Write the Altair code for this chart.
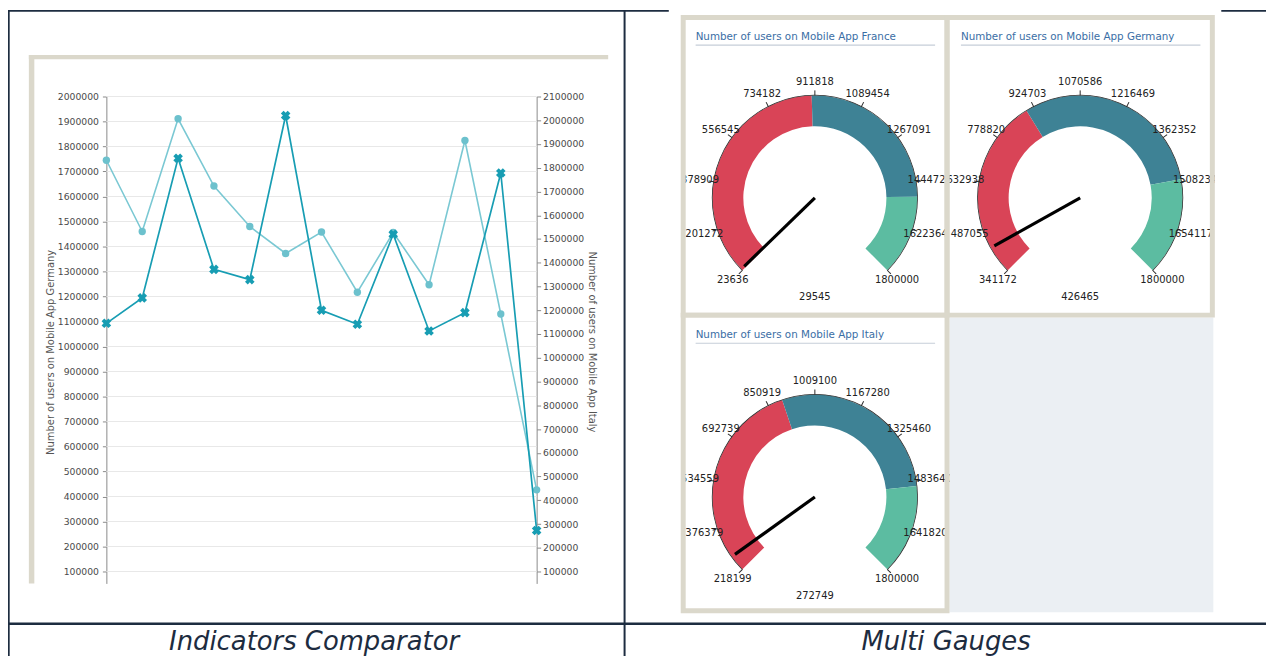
import math
import altair as alt
import pandas as pd

# ---------------- data ----------------
point_index = [0, 1, 2, 3, 4, 5, 6, 7, 8, 9, 10, 11, 12]
germany_users = [1745000, 1460000, 1911000, 1642000, 1480000, 1372000, 1458000,
                 1217000, 1456000, 1247000, 1824000, 1130000, 426465]
italy_users = [1145000, 1252000, 1840000, 1372000, 1329000, 2020000, 1200000,
               1141000, 1520000, 1113000, 1190000, 1778000, 272749]
left_axis_ticks = [100000, 200000, 300000, 400000, 500000, 600000, 700000, 800000,
                   900000, 1000000, 1100000, 1200000, 1300000, 1400000, 1500000,
                   1600000, 1700000, 1800000, 1900000, 2000000]
right_axis_ticks = [100000, 200000, 300000, 400000, 500000, 600000, 700000, 800000,
                    900000, 1000000, 1100000, 1200000, 1300000, 1400000, 1500000,
                    1600000, 1700000, 1800000, 1900000, 2000000, 2100000]
left_title = "Number of users on Mobile App Germany"
right_title = "Number of users on Mobile App Italy"

gauge_titles = ["Number of users on Mobile App France",
                "Number of users on Mobile App Germany",
                "Number of users on Mobile App Italy"]
gauge_min = [23636, 341172, 218199]
gauge_max = [1800000, 1800000, 1800000]
gauge_value = [29545, 426465, 272749]
band_breaks = [900000, 1500000]
band_colors = ["#d94457", "#3e8295", "#5cbca1"]
france_ticks = [23636, 201272, 378909, 556545, 734182, 911818, 1089454, 1267091,
                1444727, 1622364, 1800000]
germany_ticks = [341172, 487055, 632938, 778820, 924703, 1070586, 1216469, 1362352,
                 1508234, 1654117, 1800000]
italy_ticks = [218199, 376379, 534559, 692739, 850919, 1009100, 1167280, 1325460,
               1483640, 1641820, 1800000]
gauge_ticks = [france_ticks, germany_ticks, italy_ticks]
captions = ["Indicators Comparator", "Multi Gauges"]

# ---------------- style ----------------
W, H = 1266, 650
FONT = "DejaVu Sans"
NAVY = "#1d2c40"
BEIGE = "#dbd8cb"
LIGHT = "#7ac8d3"
LIGHT_PT = "#6cc1cd"
DARK = "#179db3"
TH0, TH1 = 5 * math.pi / 4, 11 * math.pi / 4
one = pd.DataFrame({"k": [0]})


def rect(x, x2, y, y2, fill="transparent", stroke="transparent", sw=0):
    return alt.Chart(one).mark_rect(fill=fill, stroke=stroke, strokeWidth=sw).encode(
        x=alt.value(x), x2=alt.value(x2), y=alt.value(y), y2=alt.value(y2))


def hline(x, x2, y, color, sw):
    return alt.Chart(one).mark_rule(color=color, strokeWidth=sw).encode(
        x=alt.value(x), x2=alt.value(x2), y=alt.value(y))


def vline(x, y, y2, color, sw):
    return alt.Chart(one).mark_rule(color=color, strokeWidth=sw).encode(
        x=alt.value(x), y=alt.value(y), y2=alt.value(y2))


layers = []

# ---------------- left: indicators comparator ----------------
X0, X1 = 99, 532
YT, YB = 87, 577
xs = alt.Scale(domain=[0, 12], range=[X0, X1], nice=False, zero=False)
ysl = alt.Scale(domain=[52300, 2000000], range=[YB, YT], nice=False, zero=False)
ysr = alt.Scale(domain=[50000, 2100000], range=[YB, YT], nice=False, zero=False)

layers.append(rect(21, 604, 45.3, 49.6, fill=BEIGE))
layers.append(rect(21, 26.5, 45.3, 577, fill=BEIGE))

axis_common = dict(labelFont=FONT, labelFontSize=9.3, labelColor="#4a4a4a",
                   tickColor="#8a8a8a", domainColor="#8a8a8a", tickSize=4,
                   format="d", grid=False, labelFlush=False, labelOverlap=False,
                   titleFont=FONT, titleFontSize=10, titleFontWeight="normal",
                   titleColor="#555555", titleBaseline="middle")

grid = alt.Chart(pd.DataFrame({"v": left_axis_ticks})).mark_rule(
    color="#e8e8e8", strokeWidth=1).encode(
    y=alt.Y("v:Q", scale=ysl, axis=None), x=alt.value(X0), x2=alt.value(X1))
layers.append(grid)

df = pd.DataFrame({"i": point_index, "ger": germany_users, "ita": italy_users})
light_line = alt.Chart(df).mark_line(color=LIGHT, strokeWidth=1.6).encode(
    x=alt.X("i:Q", scale=xs, axis=None),
    y=alt.Y("ger:Q", scale=ysl, axis=alt.Axis(
        orient="left", offset=-X0, values=left_axis_ticks, title=left_title,
        labelPadding=4, titleAngle=270, titleX=-56, titleY=344, **axis_common)))
light_pts = alt.Chart(df).mark_circle(color=LIGHT_PT, size=55, opacity=1).encode(
    x=alt.X("i:Q", scale=xs, axis=None),
    y=alt.Y("ger:Q", scale=ysl, axis=None))
dark_line = alt.Chart(df).mark_line(color=DARK, strokeWidth=1.7).encode(
    x=alt.X("i:Q", scale=xs, axis=None),
    y=alt.Y("ita:Q", scale=ysr, axis=alt.Axis(
        orient="right", offset=X1 - W, values=right_axis_ticks, title=right_title,
        labelPadding=2, titleAngle=90, titleX=55.5, titleY=333.5, **axis_common)))
dark_pts = alt.Chart(df).mark_point(shape="cross", angle=45, filled=True, color=DARK,
                                    size=95, opacity=1).encode(
    x=alt.X("i:Q", scale=xs, axis=None),
    y=alt.Y("ita:Q", scale=ysr, axis=None))
layers += [light_line, light_pts, dark_line, dark_pts]


# ---------------- right: multi gauges ----------------
def gauge(i, cx, cy, tx, ty):
    gmin, gmax, gval = gauge_min[i], gauge_max[i], gauge_value[i]
    th = alt.Scale(domain=[gmin, gmax], range=[TH0, TH1], nice=False, zero=False)
    ang = alt.Scale(domain=[gmin, gmax], range=[225, 495], nice=False, zero=False)
    pos = dict(x=alt.value(cx), y=alt.value(cy))
    bands = pd.DataFrame({"start": [gmin] + band_breaks,
                          "end": band_breaks + [gmax],
                          "color": band_colors})
    out = []
    out.append(alt.Chart(bands).mark_arc(outerRadius=103, innerRadius=72).encode(
        theta=alt.Theta("start:Q", scale=th, stack=False), theta2="end:Q",
        color=alt.Color("color:N", scale=None), **pos))
    span = pd.DataFrame({"a": [gmin], "b": [gmax]})
    out.append(alt.Chart(span).mark_arc(outerRadius=103.7, innerRadius=102.9,
                                        color="#2a2a2a").encode(
        theta=alt.Theta("a:Q", scale=th, stack=False), theta2="b:Q", **pos))
    tdf = pd.DataFrame({"v": gauge_ticks[i], "label": [str(t) for t in gauge_ticks[i]]})
    out.append(alt.Chart(tdf).mark_point(shape="M0,-1L0,-1.05", size=206 ** 2,
                                         filled=False, color="#2a2a2a",
                                         strokeWidth=1, opacity=1).encode(
        angle=alt.Angle("v:Q", scale=ang), **pos))
    out.append(alt.Chart(tdf).mark_text(radius=117, font=FONT, fontSize=10,
                                        color="#222222").encode(
        theta=alt.Theta("v:Q", scale=th, stack=False), text="label:N", **pos))
    vdf = pd.DataFrame({"v": [gval], "label": [str(gval)]})
    out.append(alt.Chart(vdf).mark_point(shape="M0,0L0,-1", size=198 ** 2,
                                         filled=False, color="#000000",
                                         strokeWidth=3.2, opacity=1).encode(
        angle=alt.Angle("v:Q", scale=ang), **pos))
    out.append(alt.Chart(vdf).mark_text(font=FONT, fontSize=10, color="#222222").encode(
        text="label:N", x=alt.value(cx), y=alt.value(cy + 100)))
    ttl = pd.DataFrame({"t": [gauge_titles[i]]})
    out.append(alt.Chart(ttl).mark_text(font=FONT, fontSize=10.4, color="#3a6ea5",
                                        align="left", baseline="middle").encode(
        text="t:N", x=alt.value(tx), y=alt.value(ty)))
    out.append(hline(tx, tx + 241, ty + 8.3, "#c6ced8", 1.2))
    return out


layers += gauge(0, 812, 189, 692, 27)
layers += gauge(2, 812, 490, 692, 327)
layers.append(rect(947.5, 1213, 309.5, 606, fill="#ebeff3"))
layers.append(rect(947.5, 1212, 10, 304.5, fill="#ffffff"))
layers += gauge(1, 1079, 189, 959, 27)

# masks outside the gauge frames
layers.append(rect(622, 677, 2, 615, fill="#ffffff"))
layers.append(rect(1214.5, W, 2, 615, fill="#ffffff"))

# gauge frames
layers.append(rect(679.5, 945, 7.5, 307, stroke=BEIGE, sw=5))
layers.append(rect(945, 1212, 7.5, 307, stroke=BEIGE, sw=5))
layers.append(rect(679.5, 945, 307, 604.5, stroke=BEIGE, sw=5))

# ---------------- table lines ----------------
layers.append(hline(0, 665, 0.8, NAVY, 1.8))
layers.append(hline(1221, W, 0.8, NAVY, 1.8))
layers.append(vline(0.8, 0, H, NAVY, 1.8))
layers.append(vline(620.5, 0, H, NAVY, 2))
layers.append(hline(0, W, 617.6, NAVY, 2.4))

# captions
for t, cxv in zip(captions, [308, 944]):
    layers.append(alt.Chart(pd.DataFrame({"t": [t]})).mark_text(
        font=FONT, fontSize=26, fontStyle="italic", color=NAVY,
        baseline="alphabetic").encode(text="t:N", x=alt.value(cxv), y=alt.value(644)))

chart = alt.layer(*layers).resolve_scale(
    y="independent", theta="independent", angle="independent"
).properties(width=W, height=H, autosize="none", padding=0, background="#ffffff"
).configure_view(strokeWidth=0)

chart.save("out.html", embed_options={"renderer": "svg", "actions": False})
